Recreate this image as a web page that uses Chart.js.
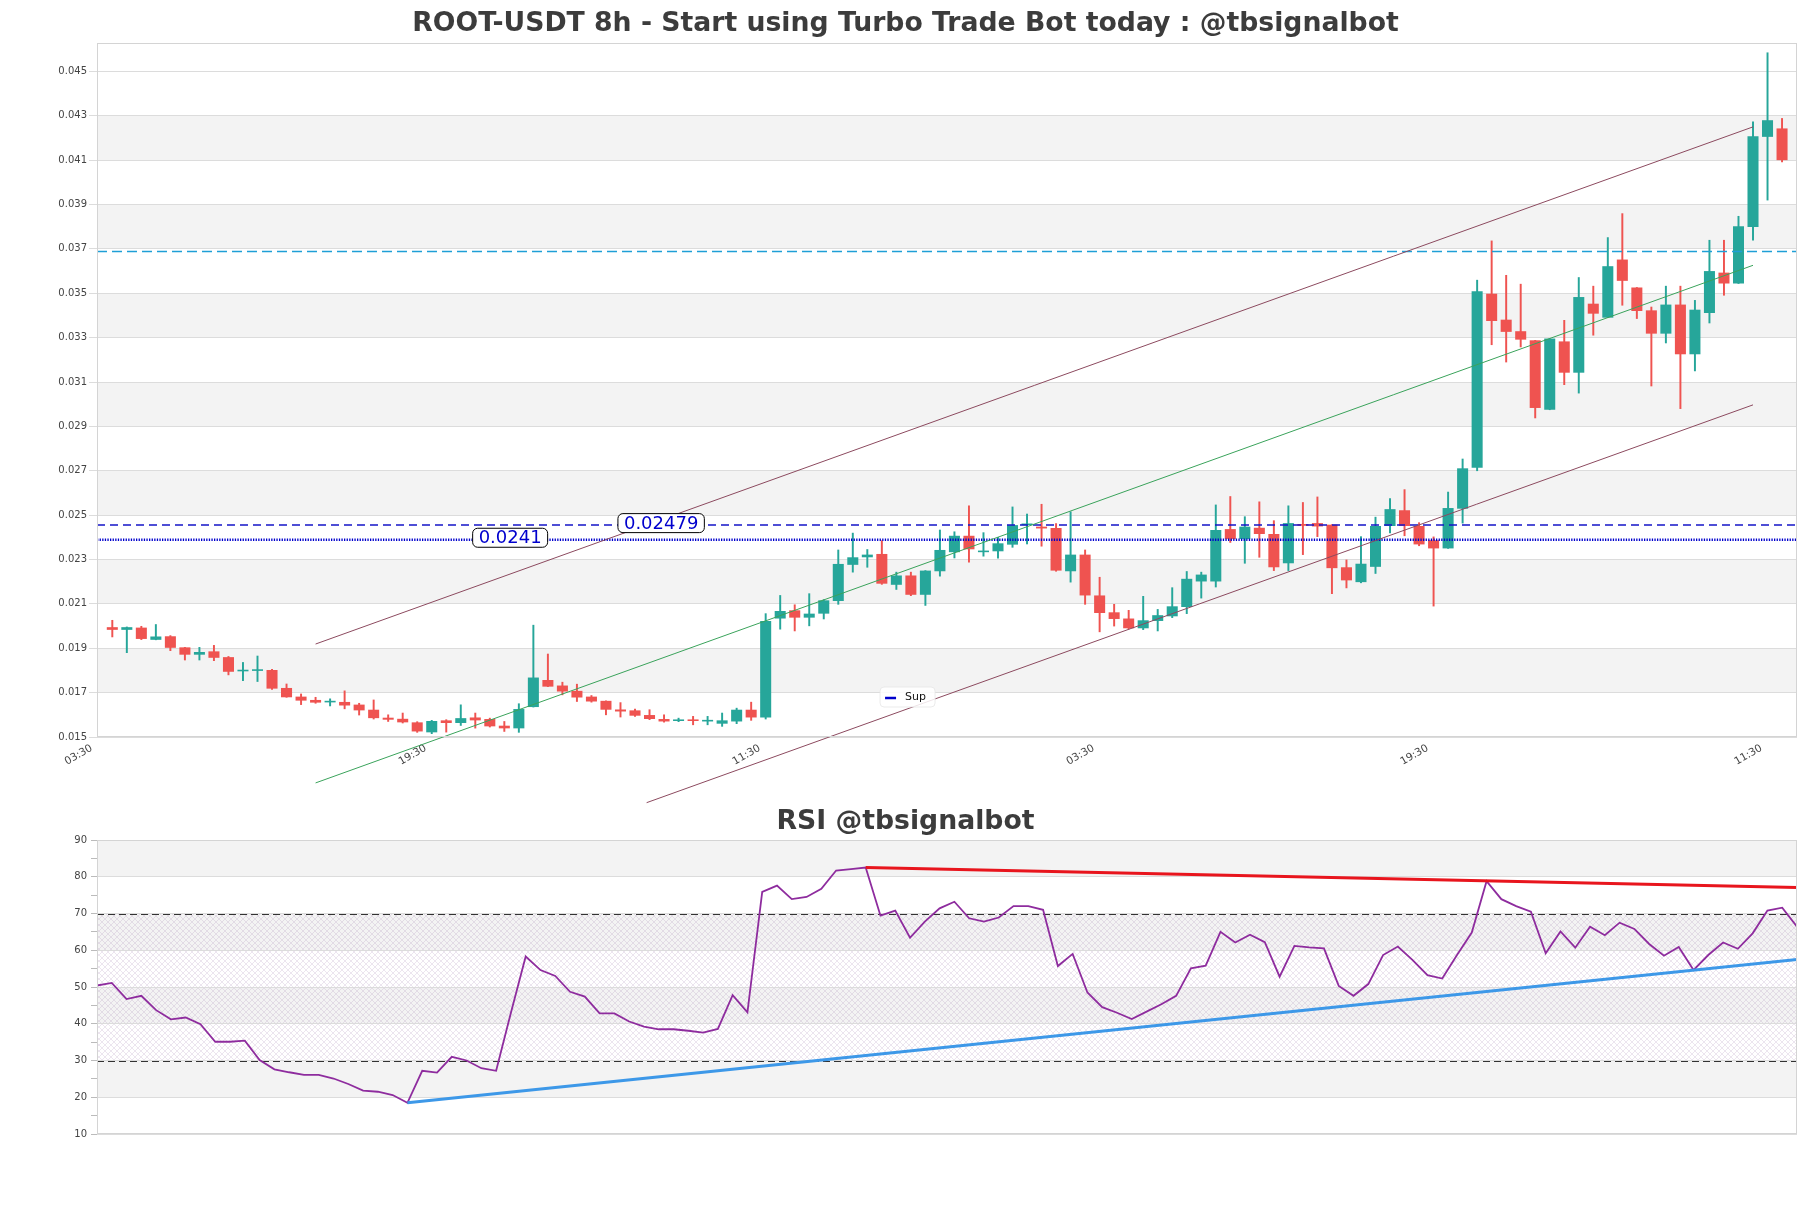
<!DOCTYPE html>
<html><head><meta charset="utf-8">
<script src="https://cdn.jsdelivr.net/npm/chart.js@4.4.1/dist/chart.umd.min.js"></script>
<style>
html,body{margin:0;padding:0;background:#fff;width:1811px;height:1208px;overflow:hidden;}
canvas{position:absolute;left:0;}
#c1{top:0;}
#c2{top:790px;}
</style></head><body>
<canvas id="c1" width="1811" height="830"></canvas>
<canvas id="c2" width="1811" height="418"></canvas>
<script>
// ---------------- DATA ----------------
const titleMain = 'ROOT-USDT 8h - Start using Turbo Trade Bot today : @tbsignalbot';
const titleRsi = 'RSI @tbsignalbot';

const xTickIdx = [-1, 22, 45, 68, 91, 114];
const xTickLabels = ['03:30', '19:30', '11:30', '03:30', '19:30', '11:30'];
const yTicks = [0.015, 0.017, 0.019, 0.021, 0.023, 0.025, 0.027, 0.029, 0.031, 0.033, 0.035, 0.037, 0.039, 0.041, 0.043, 0.045];

const opens = [0.01995,0.01983,0.01993,0.01938,0.01954,0.01904,0.01871,0.01886,0.01860,0.01796,
0.01798,0.01802,0.01721,0.01682,0.01667,0.01656,0.01658,0.01646,0.01623,0.01587,
0.01582,0.01566,0.01521,0.01575,0.01563,0.01588,0.01581,0.01551,0.01539,0.01635,
0.01757,0.01732,0.01708,0.01682,0.01663,0.01624,0.01620,0.01599,0.01581,0.01572,
0.01574,0.01570,0.01560,0.01570,0.01623,0.01588,0.02034,0.02071,0.02038,0.02056,
0.02113,0.02276,0.02310,0.02325,0.02186,0.02228,0.02141,0.02247,0.02333,0.02407,
0.02333,0.02337,0.02367,0.02455,0.02448,0.02442,0.02247,0.02322,0.02138,0.02062,
0.02034,0.01990,0.02023,0.02044,0.02086,0.02201,0.02201,0.02437,0.02392,0.02443,
0.02415,0.02283,0.02460,0.02464,0.02457,0.02265,0.02198,0.02267,0.02451,0.02522,
0.02451,0.02387,0.02350,0.02529,0.02714,0.03498,0.03381,0.03329,0.03288,0.02975,
0.03283,0.03142,0.03453,0.03390,0.03652,0.03526,0.03423,0.03318,0.03449,0.03225,
0.03411,0.03593,0.03544,0.03799,0.04205,0.04243];
const highs = [0.02026,0.01996,0.01999,0.02007,0.01957,0.01904,0.01904,0.01913,0.01863,0.01836,
0.01865,0.01805,0.01739,0.01694,0.01679,0.01672,0.01708,0.01652,0.01667,0.01600,
0.01608,0.01569,0.01575,0.01578,0.01645,0.01608,0.01585,0.01570,0.01650,0.02004,
0.01874,0.01747,0.01738,0.01687,0.01663,0.01655,0.01626,0.01623,0.01600,0.01585,
0.01593,0.01593,0.01608,0.01630,0.01657,0.02056,0.02138,0.02096,0.02146,0.02119,
0.02343,0.02419,0.02345,0.02385,0.02243,0.02243,0.02250,0.02433,0.02425,0.02542,
0.02421,0.02400,0.02537,0.02505,0.02549,0.02462,0.02515,0.02343,0.02220,0.02098,
0.02071,0.02134,0.02075,0.02173,0.02246,0.02243,0.02546,0.02584,0.02493,0.02560,
0.02475,0.02542,0.02557,0.02582,0.02457,0.02298,0.02403,0.02491,0.02575,0.02615,
0.02466,0.02402,0.02604,0.02753,0.03559,0.03736,0.03581,0.03541,0.03288,0.03296,
0.03378,0.03571,0.03532,0.03751,0.03859,0.03526,0.03438,0.03532,0.03532,0.03468,
0.03739,0.03739,0.03847,0.04273,0.04584,0.04288];
const lows = [0.01951,0.01880,0.01939,0.01938,0.01889,0.01847,0.01847,0.01844,0.01780,0.01754,
0.01750,0.01715,0.01679,0.01646,0.01652,0.01640,0.01627,0.01599,0.01581,0.01570,
0.01563,0.01521,0.01515,0.01522,0.01552,0.01540,0.01545,0.01525,0.01521,0.01635,
0.01727,0.01690,0.01660,0.01657,0.01600,0.01590,0.01593,0.01578,0.01567,0.01569,
0.01555,0.01555,0.01548,0.01560,0.01575,0.01581,0.01986,0.01978,0.02001,0.02032,
0.02098,0.02243,0.02265,0.02188,0.02165,0.02137,0.02093,0.02225,0.02307,0.02288,
0.02315,0.02306,0.02355,0.02370,0.02360,0.02247,0.02198,0.02098,0.01974,0.02000,
0.01987,0.01984,0.01978,0.02038,0.02056,0.02126,0.02176,0.02377,0.02283,0.02310,
0.02250,0.02250,0.02322,0.02403,0.02146,0.02172,0.02195,0.02237,0.02420,0.02407,
0.02362,0.02090,0.02350,0.02464,0.02700,0.03268,0.03190,0.03258,0.02938,0.02975,
0.03088,0.03050,0.03311,0.03390,0.03446,0.03386,0.03082,0.03276,0.02980,0.03150,
0.03366,0.03491,0.03544,0.03739,0.03920,0.04092];
const closes = [0.01983,0.01995,0.01942,0.01953,0.01902,0.01871,0.01883,0.01857,0.01794,0.01798,
0.01800,0.01718,0.01679,0.01664,0.01655,0.01658,0.01642,0.01620,0.01585,0.01578,
0.01566,0.01525,0.01572,0.01563,0.01585,0.01575,0.01548,0.01539,0.01626,0.01768,
0.01727,0.01705,0.01678,0.01660,0.01623,0.01615,0.01596,0.01581,0.01570,0.01574,
0.01572,0.01572,0.01575,0.01623,0.01588,0.02023,0.02068,0.02038,0.02056,0.02116,
0.02280,0.02310,0.02322,0.02191,0.02228,0.02141,0.02250,0.02343,0.02407,0.02346,
0.02340,0.02373,0.02455,0.02456,0.02440,0.02250,0.02322,0.02138,0.02059,0.02032,
0.01990,0.02026,0.02049,0.02089,0.02213,0.02232,0.02433,0.02392,0.02448,0.02415,
0.02265,0.02464,0.02452,0.02449,0.02261,0.02206,0.02281,0.02451,0.02527,0.02451,
0.02368,0.02350,0.02532,0.02711,0.03509,0.03375,0.03326,0.03291,0.02983,0.03296,
0.03142,0.03483,0.03408,0.03622,0.03556,0.03420,0.03318,0.03449,0.03225,0.03426,
0.03600,0.03544,0.03802,0.04208,0.04280,0.04100];

// horizontal levels
const resistanceLevel = 0.03688;
const upperLevel = 0.02455;
const supLevel = 0.02389;
const levelLabels = ['0.0241', '0.02479'];
const levelLabelValues = [supLevel, upperLevel];
const levelLabelIdx = [27.4, 37.8];
const supLegend = ['Sup'];

// trend channel lines [index, price]
const channelUpper = [[14, 0.01919], [113, 0.04250]];
const channelMid = [[14, 0.01293], [113, 0.03626]];
const channelLower = [[36.8, 0.01204], [113, 0.02997]];

// RSI
const rsi = [50.4,51.1,46.7,47.6,43.7,41.2,41.7,39.9,35.1,35.1,
35.4,30.1,27.6,26.8,26.1,26.1,25.1,23.6,21.8,21.5,
20.6,18.5,27.2,26.7,31.0,30.0,27.9,27.2,43.0,58.3,
54.6,53.0,48.7,47.4,42.8,42.8,40.6,39.2,38.5,38.5,
38.1,37.6,38.6,47.8,43.1,75.9,77.6,73.9,74.5,76.7,
81.7,82.1,82.5,69.4,70.8,63.4,67.8,71.4,73.2,68.7,
67.8,68.9,72.0,72.0,71.0,55.7,59.0,48.5,44.5,43.0,
41.3,43.3,45.3,47.6,55.1,55.8,65.0,62.1,64.2,62.2,
52.8,61.2,60.8,60.5,50.3,47.6,50.8,58.7,61.0,57.3,
53.2,52.3,58.7,64.8,78.8,73.9,72.0,70.5,59.2,65.1,
60.7,66.4,64.1,67.5,65.8,61.7,58.5,60.9,54.6,58.7,
62.1,60.4,64.6,70.8,71.6,66.4];
const rsiResist = [[52, 82.5], [115, 77.1]];
const rsiSupport = [[21, 18.5], [115, 57.5]];
const rsiTicks = [10, 20, 30, 40, 50, 60, 70, 80, 90];
const rsiLevels = [70, 30];

// ---------------- STYLE ----------------
const UP = '#26a69a', DOWN = '#ef5350';
const FONT = 'DejaVu Sans';
Chart.defaults.font.family = FONT;
Chart.defaults.animation = false;

const xMin = -1.054, xMax = 116.03;
const mainBands = [[0.017,0.019],[0.021,0.023],[0.025,0.027],[0.029,0.031],[0.033,0.035],[0.037,0.039],[0.041,0.043]];
const rsiBands = [[20,30],[40,50],[60,70],[80,90]];

const candleColors = closes.map((c, i) => c >= opens[i] ? UP : DOWN);
const toPts = arr => arr.map(p => ({x: p[0], y: p[1]}));

function makeBackgroundPlugin(bands, hatchRange) {
  return {
    id: 'bg',
    beforeDraw(chart) {
      const {ctx, chartArea: a, scales: {y}} = chart;
      ctx.save();
      ctx.fillStyle = '#f3f3f3';
      for (const [lo, hi] of bands) {
        const y1 = y.getPixelForValue(hi), y2 = y.getPixelForValue(lo);
        ctx.fillRect(a.left, y1, a.right - a.left, y2 - y1);
      }
      if (hatchRange) {
        const t = document.createElement('canvas');
        t.width = 6; t.height = 6;
        const g = t.getContext('2d');
        g.strokeStyle = 'rgba(170,140,185,0.32)';
        g.lineWidth = 0.7;
        g.beginPath(); g.moveTo(0, 0); g.lineTo(6, 6); g.moveTo(6, 0); g.lineTo(0, 6); g.stroke();
        ctx.fillStyle = ctx.createPattern(t, 'repeat');
        const y1 = y.getPixelForValue(hatchRange[1]), y2 = y.getPixelForValue(hatchRange[0]);
        ctx.fillRect(a.left, y1, a.right - a.left, y2 - y1);
      }
      ctx.restore();
    },
    afterDraw(chart) {
      const {ctx, chartArea: a} = chart;
      ctx.save();
      ctx.strokeStyle = '#d4d4d4';
      ctx.lineWidth = 1;
      ctx.strokeRect(Math.round(a.left) + 0.5, Math.round(a.top) + 0.5, Math.round(a.right - a.left) - 1, Math.round(a.bottom - a.top) - 1);
      ctx.restore();
    }
  };
}

const labelPlugin = {
  id: 'levelLabels',
  afterDatasetsDraw(chart) {
    const {ctx, chartArea: a, scales: {x, y}} = chart;
    ctx.save();
    ctx.font = '18px ' + FONT;
    levelLabels.forEach((txt, i) => {
      const cx = x.getPixelForValue(levelLabelIdx[i]);
      const cy = y.getPixelForValue(levelLabelValues[i]) - 2;
      const w = ctx.measureText(txt).width + 12, h = 19;
      ctx.beginPath();
      ctx.roundRect(cx - w / 2, cy - h / 2, w, h, 5);
      ctx.fillStyle = '#fff';
      ctx.fill();
      ctx.strokeStyle = '#000';
      ctx.lineWidth = 1;
      ctx.stroke();
      ctx.fillStyle = '#0000cd';
      ctx.textAlign = 'center';
      ctx.textBaseline = 'middle';
      ctx.fillText(txt, cx, cy + 1);
    });
    // legend "Sup"
    const lx = a.left + 0.4765 * (a.right - a.left);
    const ly = a.bottom - 40;
    ctx.beginPath();
    ctx.roundRect(lx - 27, ly - 10, 55, 20, 4);
    ctx.fillStyle = 'rgba(255,255,255,0.85)';
    ctx.fill();
    ctx.strokeStyle = 'rgba(230,230,230,0.8)';
    ctx.stroke();
    ctx.beginPath();
    ctx.moveTo(lx - 22, ly + 1); ctx.lineTo(lx - 11, ly + 1);
    ctx.strokeStyle = '#0000cc';
    ctx.lineWidth = 2.5;
    ctx.stroke();
    ctx.font = '11px ' + FONT;
    ctx.fillStyle = '#111';
    ctx.textAlign = 'left';
    ctx.textBaseline = 'middle';
    ctx.fillText(supLegend[0], lx - 2, ly);
    ctx.restore();
  }
};

const rsiLevelPlugin = {
  id: 'rsiLevels',
  beforeDatasetsDraw(chart) {
    const {ctx, chartArea: a, scales: {y}} = chart;
    ctx.save();
    ctx.strokeStyle = '#333';
    ctx.lineWidth = 1.2;
    ctx.setLineDash([7, 4]);
    for (const v of rsiLevels) {
      const py = Math.round(y.getPixelForValue(v)) + 0.5;
      ctx.beginPath(); ctx.moveTo(a.left, py); ctx.lineTo(a.right, py); ctx.stroke();
    }
    ctx.restore();
  }
};

const titleOpts = (text, pt, pb) => ({
  display: true, text, color: '#3c3c3c',
  font: {family: FONT, size: 26.7, weight: 'bold', lineHeight: 1.2},
  padding: {top: pt, bottom: pb}
});

const rightSpacer = {
  type: 'linear', position: 'right', display: true,
  ticks: {display: false}, grid: {display: false, drawTicks: false}, border: {display: false},
  afterFit: s => { s.width = 14; }
};

// ---------------- MAIN CHART ----------------
new Chart(document.getElementById('c1'), {
  type: 'bar',
  data: {
    datasets: [
      {type: 'line', label: 'upper', data: toPts(channelUpper), yAxisID: 'y', borderColor: '#8c4a5f', borderWidth: 1, pointRadius: 0, clip: false, order: 1},
      {type: 'line', label: 'mid', data: toPts(channelMid), yAxisID: 'y', borderColor: '#3aa35b', borderWidth: 1, pointRadius: 0, clip: false, order: 1},
      {type: 'line', label: 'lower', data: toPts(channelLower), yAxisID: 'y', borderColor: '#8c4a5f', borderWidth: 1, pointRadius: 0, clip: false, order: 1},
      {type: 'line', label: 'res', data: [{x: xMin, y: resistanceLevel}, {x: xMax, y: resistanceLevel}], yAxisID: 'y', borderColor: '#1f9fd6', borderWidth: 1.4, borderDash: [10, 5], pointRadius: 0, order: 2},
      {type: 'line', label: 'lvl', data: [{x: xMin, y: upperLevel}, {x: xMax, y: upperLevel}], yAxisID: 'y', borderColor: '#1414c8', borderWidth: 1.5, borderDash: [8, 5], pointRadius: 0, order: 2},
      {type: 'line', label: 'Sup', data: [{x: xMin, y: supLevel}, {x: xMax, y: supLevel}], yAxisID: 'y', borderColor: '#0000cc', borderWidth: 2.6, borderDash: [1.3, 1.3], pointRadius: 0, order: 2},
      {label: 'body', data: opens.map((o, i) => ({x: i, y: [o, closes[i]]})), yAxisID: 'y', backgroundColor: candleColors, borderWidth: 0, grouped: false, categoryPercentage: 1, barPercentage: 0.76, minBarLength: 1.6, order: 4},
      {label: 'wick', data: lows.map((l, i) => ({x: i, y: [l, highs[i]]})), yAxisID: 'y', backgroundColor: candleColors, borderWidth: 0, grouped: false, categoryPercentage: 1, barPercentage: 1, maxBarThickness: 1.3, order: 5}
    ]
  },
  options: {
    responsive: false, animation: false, events: [],
    layout: {padding: {left: 0, right: 0, top: 0, bottom: 0}},
    plugins: {legend: {display: false}, tooltip: {enabled: false}, title: titleOpts(titleMain, 8.5, 2.46)},
    scales: {
      x: {
        type: 'linear', min: xMin, max: xMax, offset: false,
        grid: {display: false, drawTicks: false}, border: {display: false},
        afterBuildTicks: s => { s.ticks = xTickIdx.map(v => ({value: v})); },
        ticks: {autoSkip: false, minRotation: 30, maxRotation: 30, padding: 5, labelOffset: -6, color: '#444', font: {size: 10.5},
          callback: (v, i) => xTickLabels[i]},
        afterFit: s => { s.height = 93; }
      },
      y: {
        type: 'linear', position: 'left', min: 0.015, max: 0.04628,
        afterBuildTicks: s => { s.ticks = yTicks.map(v => ({value: v})); },
        ticks: {color: '#444', font: {size: 10}, padding: 2, callback: v => Number(v).toFixed(3)},
        grid: {color: '#dcdcdc', tickLength: 8, lineWidth: 1},
        border: {display: false},
        afterFit: s => { s.width = 97; }
      },
      yr: rightSpacer
    }
  },
  plugins: [makeBackgroundPlugin(mainBands, null), labelPlugin]
});

// ---------------- RSI CHART ----------------
new Chart(document.getElementById('c2'), {
  type: 'line',
  data: {
    datasets: [
      {label: 'resist', data: toPts(rsiResist), borderColor: '#e8151d', borderWidth: 3, pointRadius: 0, order: 1},
      {label: 'support', data: toPts(rsiSupport), borderColor: '#3d98e8', borderWidth: 3, pointRadius: 0, order: 1},
      {label: 'RSI', data: rsi.map((v, i) => ({x: i, y: v})), borderColor: '#8e2c9e', borderWidth: 1.8, pointRadius: 0, tension: 0, order: 2}
    ]
  },
  options: {
    responsive: false, animation: false, events: [],
    layout: {padding: {left: 0, right: 0, top: 0, bottom: 0}},
    plugins: {legend: {display: false}, tooltip: {enabled: false}, title: titleOpts(titleRsi, 16.5, 1.46)},
    scales: {
      x: {
        type: 'linear', min: 0, max: rsi.length - 1, offset: false,
        grid: {display: false, drawTicks: false}, border: {display: false},
        ticks: {display: false},
        afterFit: s => { s.height = 74; }
      },
      y: {
        type: 'linear', position: 'left', min: 10, max: 90,
        afterBuildTicks: s => {
          const t = [];
          for (let k = 0; k < rsiTicks.length; k++) {
            t.push({value: rsiTicks[k]});
            if (k < rsiTicks.length - 1) t.push({value: (rsiTicks[k] + rsiTicks[k + 1]) / 2});
          }
          s.ticks = t;
        },
        ticks: {autoSkip: false, color: '#444', font: {size: 10}, padding: 4,
          callback: v => rsiTicks.includes(v) ? String(v) : ''},
        grid: {
          color: c => (c.tick && !rsiTicks.includes(c.tick.value)) ? 'rgba(0,0,0,0)' : '#dcdcdc',
          tickColor: '#bbbbbb', tickLength: 6, lineWidth: 1
        },
        border: {display: false},
        afterFit: s => { s.width = 97; }
      },
      yr: rightSpacer
    }
  },
  plugins: [makeBackgroundPlugin(rsiBands, [30, 70]), rsiLevelPlugin]
});
</script>
</body></html>
